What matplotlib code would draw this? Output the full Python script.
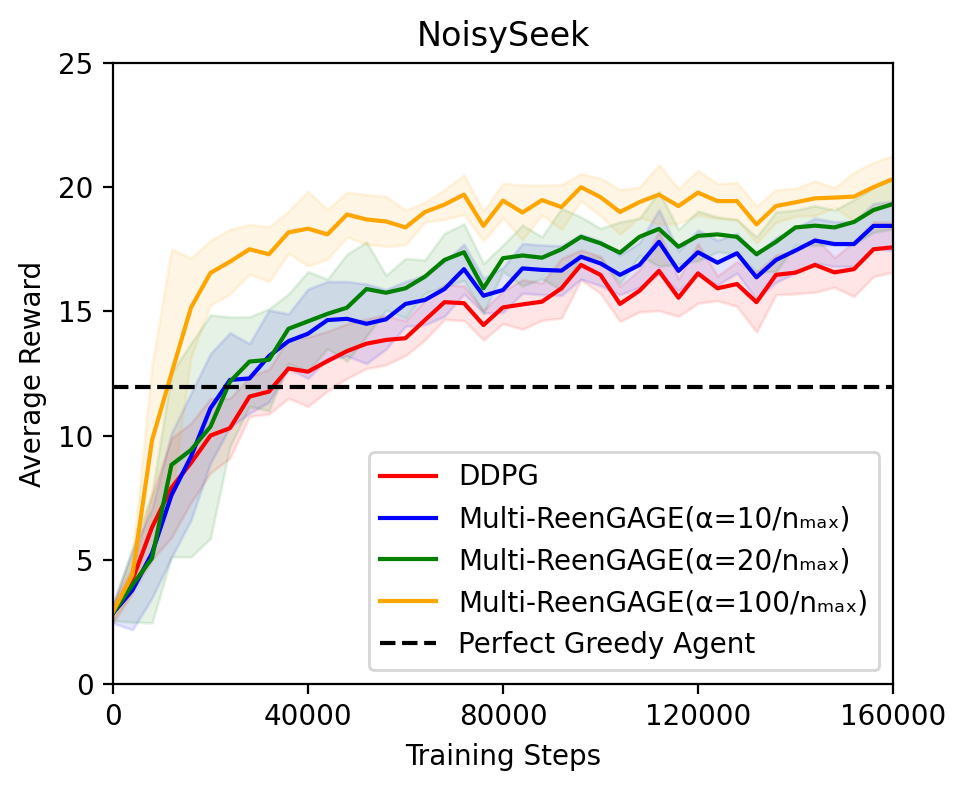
import numpy as np
import matplotlib
matplotlib.use("Agg")
from matplotlib import pyplot as plt

steps = np.arange(0, 160001, 4000)

ddpg = [2.85, 4.2, 6.3, 7.9, 8.9, 10.0, 10.3, 11.57, 11.77, 12.7,
        12.57, 13.0, 13.4, 13.7, 13.85, 13.92, 14.65, 15.37, 15.33, 14.45,
        15.16, 15.28, 15.39, 15.93, 16.87, 16.47, 15.3, 15.83, 16.63, 15.55,
        16.53, 15.93, 16.1, 15.37, 16.47, 16.56, 16.87, 16.57, 16.7, 17.5, 17.58]
ddpg_std = [0.4, 0.5, 1.3, 2.0, 1.6, 1.5, 1.2, 0.8, 0.9, 1.2,
            1.4, 1.2, 1.1, 1.0, 1.0, 0.7, 0.8, 0.7, 0.7, 0.6,
            0.65, 1.0, 0.75, 1.2, 0.6, 0.75, 0.7, 0.85, 1.6, 0.75,
            1.2, 0.5, 0.9, 1.2, 0.8, 0.85, 1.1, 0.6, 1.1, 1.1, 1.0]

a10 = [2.85, 3.78, 5.26, 7.6, 9.15, 11.1, 12.24, 12.3, 13.2, 13.8,
       14.1, 14.65, 14.7, 14.5, 14.68, 15.3, 15.46, 15.9, 16.7, 15.63,
       15.86, 16.73, 16.67, 16.64, 17.2, 16.93, 16.47, 16.87, 17.8, 16.63,
       17.38, 16.96, 17.34, 16.37, 17.07, 17.45, 17.85, 17.71, 17.71, 18.44, 18.44]
a10_std = [0.4, 1.6, 1.8, 2.5, 2.55, 2.2, 1.9, 1.4, 1.85, 1.1,
           1.8, 1.55, 1.5, 1.6, 1.2, 0.9, 1.0, 1.1, 1.0, 0.7,
           0.9, 1.0, 1.0, 1.0, 0.9, 0.9, 0.8, 0.9, 1.3, 0.8,
           0.9, 0.9, 0.8, 0.9, 0.9, 0.9, 0.9, 0.9, 0.9, 0.9, 1.0]

a20 = [2.85, 3.99, 5.06, 8.82, 9.42, 10.36, 12.17, 12.98, 13.05, 14.3,
       14.6, 14.9, 15.15, 15.9, 15.75, 15.93, 16.4, 17.07, 17.38, 15.93,
       17.14, 17.25, 17.16, 17.5, 18.0, 17.74, 17.36, 18.0, 18.32, 17.6,
       18.04, 18.1, 18.0, 17.3, 17.8, 18.38, 18.45, 18.38, 18.6, 19.08, 19.32]
a20_std = [0.3, 1.5, 2.6, 3.7, 4.3, 4.5, 2.6, 1.8, 2.05, 1.4,
           2.0, 1.4, 2.15, 1.9, 0.7, 1.2, 0.67, 1.07, 1.14, 1.0,
           0.53, 1.23, 0.84, 1.65, 0.8, 0.6, 1.24, 0.75, 1.5, 0.7,
           1.0, 0.7, 0.7, 0.7, 1.2, 0.7, 0.8, 0.7, 0.9, 0.9, 1.0]

a100 = [2.9, 4.4, 9.8, 12.5, 15.15, 16.55, 17.0, 17.5, 17.3, 18.18,
        18.33, 18.1, 18.9, 18.7, 18.62, 18.38, 19.0, 19.3, 19.7, 18.44,
        19.46, 18.98, 19.48, 19.2, 20.0, 19.6, 19.0, 19.4, 19.7, 19.24,
        19.78, 19.44, 19.44, 18.5, 19.24, 19.39, 19.55, 19.58, 19.62, 20.0, 20.33]
a100_std = [0.3, 0.8, 3.0, 5.0, 2.0, 1.3, 1.3, 1.0, 1.1, 0.85,
            1.5, 1.0, 0.9, 1.0, 1.0, 0.7, 0.4, 0.6, 0.8, 0.6,
            0.7, 1.1, 0.6, 0.9, 0.55, 0.75, 0.9, 0.6, 1.2, 0.7,
            0.9, 0.7, 0.75, 0.74, 0.66, 0.56, 0.7, 0.4, 0.98, 1.0, 0.93]

greedy = 11.94

series = [
    ("DDPG", ddpg, ddpg_std, "red"),
    ("Multi-ReenGAGE(α=10/nₘₐₓ)", a10, a10_std, "blue"),
    ("Multi-ReenGAGE(α=20/nₘₐₓ)", a20, a20_std, "green"),
    ("Multi-ReenGAGE(α=100/nₘₐₓ)", a100, a100_std, "orange"),
]

fig = plt.figure(figsize=(4.84, 3.945), dpi=200)
ax = fig.add_axes([0.1167, 0.1331, 0.8058, 0.7871])

for name, mean, std, col in series:
    mean = np.array(mean)
    std = np.array(std)
    ax.plot(steps, mean, color=col, lw=1.5, label=name)
    ax.fill_between(steps, mean - std, mean + std, color=col, alpha=0.1)

ax.axhline(greedy, color="black", ls="--", lw=1.5, label="Perfect Greedy Agent")

ax.set_xlim(0, 160000)
ax.set_ylim(0, 25)
ax.set_xticks([0, 40000, 80000, 120000, 160000])
ax.set_yticks([0, 5, 10, 15, 20, 25])
ax.set_xlabel("Training Steps")
ax.set_ylabel("Average Reward")
ax.set_title("NoisySeek")
ax.legend(loc="lower right")

fig.savefig("out.png", dpi=200)
